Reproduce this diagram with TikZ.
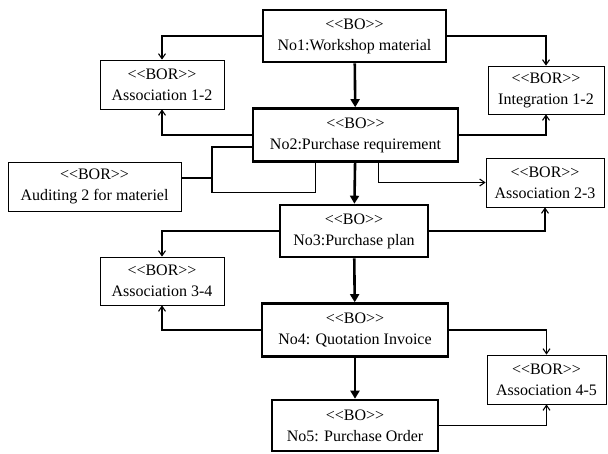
\documentclass[tikz,border=0pt]{standalone}
\usepackage{fontspec}
\setmainfont{Liberation Serif}
\usetikzlibrary{arrows.meta}
\begin{document}
\begin{tikzpicture}[x=1pt,y=-1pt,
  every node/.style={align=center,inner sep=0pt,
    font=\fontsize{16}{21}\selectfont},
  bo/.style={draw,line width=2.6pt,minimum width=#1},
  bor/.style={draw,line width=0.8pt,minimum width=#1},
  link/.style={line width=1.1pt,-{Straight Barb[length=5pt,width=7pt]}},
  plain/.style={line width=1.1pt},
  flow/.style={line width=2.6pt,-{Triangle[length=8pt,width=9pt]}}]
\useasboundingbox (0,0) rectangle (608,453);

% business objects (main chain)
\node[bo=183pt,minimum height=52pt] (n1) at (354.5,36) {<{}<BO>{}>\\No1:Workshop material};
\node[bo=205pt,minimum height=53pt] (n2) at (355.5,135) {<{}<BO>{}>\\No2:Purchase requirement};
\node[bo=148pt,minimum height=52pt] (n3) at (354,231) {<{}<BO>{}>\\No3:Purchase plan};
\node[bo=186pt,minimum height=53pt] (n4) at (355,330) {<{}<BO>{}>\\No4: Quotation Invoice};
\node[bo=166pt,minimum height=51pt] (n5) at (355,425.5) {<{}<BO>{}>\\No5: Purchase Order};

% business object relations
\node[bor=124pt,minimum height=49pt] (a12) at (162,84.5) {<{}<BOR>{}>\\Association 1-2};
\node[bor=116pt,minimum height=48pt] (i12) at (546,90) {<{}<BOR>{}>\\Integration 1-2};
\node[bor=173pt,minimum height=49pt] (aud) at (94.5,186.5) {<{}<BOR>{}>\\Auditing 2 for materiel};
\node[bor=118pt,minimum height=49pt] (a23) at (545,182.5) {<{}<BOR>{}>\\Association 2-3};
\node[bor=124pt,minimum height=48pt] (a34) at (162,281) {<{}<BOR>{}>\\Association 3-4};
\node[bor=119pt,minimum height=49pt] (a45) at (546.5,379.5) {<{}<BOR>{}>\\Association 4-5};

% main flow
\draw[flow] (n1) -- (n2);
\draw[flow] (n2) -- (n3);
\draw[flow] (n3) -- (n4);
\draw[flow] (n4) -- (n5);

% relation links
\draw[link] (n1.west) -| (a12.north);
\draw[link] (n1.east) -| (i12.north);
\draw[link] (n2.west) -| (a12.south);
\draw[link] (n2.east) -| (i12.south);
\draw[link] ([xshift=23pt]n2.south) |- (a23.west);
\draw[link] (n3.west) -| (a34.north);
\draw[link] (n3.east) -| (a23.south);
\draw[link] (n4.west) -| (a34.south);
\draw[link] (n4.east) -| (a45.north);
\draw[link] (n5.east) -| (a45.south);

% auditing bracket
\coordinate (bj) at (212,178);
\draw[plain] ([xshift=-40pt]n2.south) -- ++(0,30) -| (bj) |- ([yshift=-12pt]n2.west);
\draw[plain] (aud.east |- bj) -- (bj);
\end{tikzpicture}
\end{document}
